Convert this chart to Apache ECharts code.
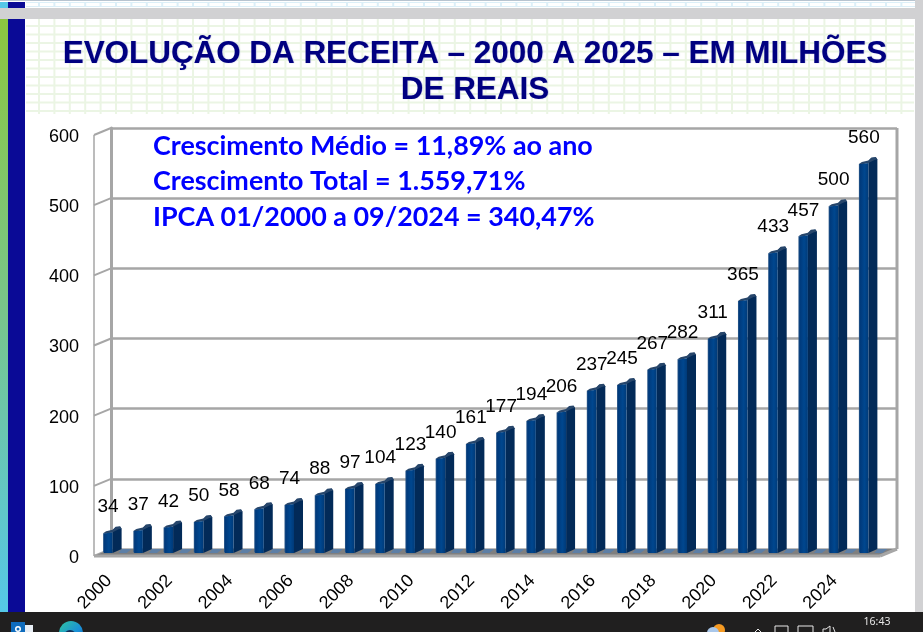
<!DOCTYPE html>
<html><head><meta charset="utf-8">
<style>html,body{margin:0;padding:0;background:#fff}#c{width:923px;height:632px}</style>
<script src="https://cdn.jsdelivr.net/npm/echarts@6/dist/echarts.min.js"></script>
</head><body><div id="c"></div>
<script>
const years = [2000,2001,2002,2003,2004,2005,2006,2007,2008,2009,2010,2011,2012,2013,2014,2015,2016,2017,2018,2019,2020,2021,2022,2023,2024,2025];
const revenue = [34,37,42,50,58,68,74,88,97,104,123,140,161,177,194,206,237,245,267,282,311,365,433,457,500,560];
const yTicks = [0,100,200,300,400,500,600];
const titleText = "EVOLUÇÃO DA RECEITA – 2000 A 2025 – EM MILHÕES\nDE REAIS";
const notes = ["Crescimento Médio = 11,89% ao ano","Crescimento Total = 1.559,71%","IPCA 01/2000 a 09/2024 = 340,47%"];
const clock = "16:43";

const WALL = '#a6a6a6', DX = 17, DY = -7;
const chrome = [];
function rect(x,y,w,h,fill,z){chrome.push({type:'rect',silent:true,z:z===undefined?-10:z,shape:{x,y,width:w,height:h},style:{fill}});}
// patterned slide background
for(let x=38;x<914;x+=15.4){rect(x,19,2,95,'#ebf5e4',-9);rect(x,2,2,5,'#dcefF8',-9);}
for(let y=25;y<114;y+=8.5){rect(26,y,888,2,'#ebf5e4',-9);}
rect(26,2,889,1,'#dcefF8',-9);rect(26,6,889,1,'#dcefF8',-9);
rect(0,0,923,1,'#b8c4d0',-8);
rect(0,8,915,11,'#d1d1d3',-8);
rect(915,0,8,612,'#d1d1d3',-8);
rect(0,2,8,6,'#55c8e8',-8);
rect(8,2,17,6,'#0a0a96',-8);
chrome.push({type:'rect',silent:true,z:-8,shape:{x:0,y:19,width:8,height:593},style:{fill:{type:'linear',x:0,y:0,x2:0,y2:1,colorStops:[{offset:0,color:'#8cc63f'},{offset:0.5,color:'#78c58c'},{offset:1,color:'#55c8e8'}]}}});
rect(8,19,17,593,'#0a0a96',-8);
rect(28,114,886,498,'#ffffff',-8);
// taskbar
rect(0,612,923,20,'#201f1f',5);
rect(11,622,14,10,'#0f6cbd',6);rect(25,625,8,7,'#e8eef5',6);
chrome.push({type:'ring',silent:true,z:6,shape:{cx:18,cy:629,r:3,r0:1.5},style:{fill:'#ffffff'}});
chrome.push({type:'circle',silent:true,z:6,shape:{cx:71,cy:633,r:12},style:{fill:{type:'linear',x:0,y:0,x2:1,y2:1,colorStops:[{offset:0,color:'#2fc4a0'},{offset:0.6,color:'#1a8fd8'},{offset:1,color:'#0c59a4'}]}}});
chrome.push({type:'circle',silent:true,z:7,shape:{cx:70,cy:636,r:6},style:{fill:'#12305c'}});
chrome.push({type:'circle',silent:true,z:6,shape:{cx:719,cy:630,r:6},style:{fill:'#f59a23'}});
chrome.push({type:'circle',silent:true,z:7,shape:{cx:713,cy:633,r:6},style:{fill:'#a9c7ea'}});
const trayLine = {fill:'none',stroke:'#e8e8e8',lineWidth:1};
chrome.push({type:'polyline',silent:true,z:6,shape:{points:[[755,632],[758,629],[761,632]]},style:trayLine});
chrome.push({type:'rect',silent:true,z:6,shape:{x:775,y:626,width:13,height:8},style:trayLine});
chrome.push({type:'rect',silent:true,z:6,shape:{x:798,y:626,width:15,height:8},style:trayLine});
chrome.push({type:'polyline',silent:true,z:6,shape:{points:[[823,632],[823,629],[826,629],[830,626],[830,632]]},style:trayLine});
chrome.push({type:'polyline',silent:true,z:6,shape:{points:[[833,627],[835,632]]},style:trayLine});
chrome.push({type:'text',silent:true,z:6,style:{text:clock,x:877,y:622,align:'center',verticalAlign:'middle',fontSize:10.5,fontFamily:'"Noto Sans"',fill:'#e6e6e6'}});
// annotation
notes.forEach((t,i)=>chrome.push({type:'text',silent:true,z:10,style:{text:t,x:153,y:146+i*35.5,align:'left',verticalAlign:'middle',fontSize:26.9,fontWeight:'bold',fontFamily:'Lato',fill:'#0000ff'}}));

function renderWalls(params, api){
  const r = params.coordSys, y = api.coord([0, api.value(1)])[1];
  return {type:'line',shape:{x1:r.x,y1:y,x2:r.x+DX,y2:y+DY},style:{stroke:WALL,lineWidth:2}};
}
function renderFrame(params){
  const r = params.coordSys, b = r.y+r.height, R = r.x+r.width;
  return {type:'group',children:[
    {type:'polygon',shape:{points:[[r.x,b],[r.x+DX,b+DY],[R+DX,b+DY],[R,b]]},style:{fill:'#7f7f7f'}},
    {type:'line',shape:{x1:r.x,y1:b,x2:R,y2:b},style:{stroke:WALL,lineWidth:3}},
    {type:'line',shape:{x1:R,y1:b,x2:R+DX,y2:b+DY},style:{stroke:WALL,lineWidth:3}},
    {type:'line',shape:{x1:R+DX,y1:r.y+DY,x2:R+DX,y2:b+DY},style:{stroke:WALL,lineWidth:3}},
    {type:'line',shape:{x1:r.x,y1:r.y,x2:r.x,y2:b},style:{stroke:WALL,lineWidth:1.5}}
  ]};
}
function renderBar(params, api){
  const i = api.value(0), v = api.value(1);
  const c = api.coord([i,v]), c0 = api.coord([i,0]);
  const top = c[1], bot = c0[1]-3;
  const x1 = c[0]-6, x2 = c[0]+3.5, x3 = c[0]+12.5;
  return {type:'group',children:[
    {type:'polygon',shape:{points:[[x3,bot-4],[x3+10,bot-4],[x3+5,bot],[x3-3,bot]]},style:{fill:'#5d7fa6'}},
    {type:'polygon',shape:{points:[[x2,top-2],[x3-6,top-5],[x3-1.5,top-5.5],[x3,top-3.5],[x3,bot-4],[x2,bot]]},style:{fill:'#022a58'}},
    {type:'polygon',shape:{points:[[x1,top+1],[x1+3,top-1],[x2,top-2.5],[x3-6,top-5.5],[x3-1.5,top-6],[x3,top-3.5],[x3-3,top-3],[x2,top],[x1+3,top+1.5]]},style:{fill:'#27466b'}},
    {type:'polygon',shape:{points:[[x1,top+1],[x1+3,top+1],[x2,top],[x2,bot],[x1+1,bot],[x1,bot-1]]},
      style:{fill:{type:'linear',x:0,y:0,x2:1,y2:0,colorStops:[{offset:0,color:'#2f5a8a'},{offset:0.15,color:'#003a7c'},{offset:0.6,color:'#00478f'},{offset:1,color:'#003a78'}]}}},
    {type:'text',style:{text:String(v),x:c[0]-1,y:top-25,align:'center',verticalAlign:'middle',fontSize:19,fontFamily:'"Liberation Sans"',fill:'#000'}}
  ]};
}

const chart = echarts.init(document.getElementById('c'),null,{renderer:'canvas'});
chart.setOption({
  animation:false,
  backgroundColor:'#ffffff',
  title:{text:titleText,left:470,top:31,textAlign:'center',
    textStyle:{color:'#000080',fontFamily:'"Liberation Sans"',fontWeight:'bold',fontSize:31.4,lineHeight:36,
      textShadowColor:'#a8a8d8',textShadowBlur:1,textShadowOffsetX:0.5,textShadowOffsetY:0.5}},
  graphic:{elements:chrome},
  grid:[
    {left:94+DX,top:135+DY,width:786,height:421},
    {left:94,top:135,width:786,height:421}
  ],
  xAxis:[
    {type:'category',gridIndex:0,data:years,show:false},
    {type:'category',gridIndex:1,data:years,axisLine:{show:false},axisTick:{show:false},
      axisLabel:{interval:1,rotate:45,margin:22,fontSize:18,color:'#000',fontFamily:'"Liberation Sans"'}}
  ],
  yAxis:[
    {type:'value',gridIndex:0,min:0,max:600,interval:100,axisLabel:{show:false},axisTick:{show:false},
      axisLine:{show:true,lineStyle:{color:WALL,width:3}},splitLine:{show:true,lineStyle:{color:WALL,width:2.5}}},
    {type:'value',gridIndex:1,min:0,max:600,interval:100,axisLine:{show:false},axisTick:{show:false},splitLine:{show:false},
      axisLabel:{margin:15,formatter:'{a|{value}}',rich:{a:{fontSize:18,color:'#000',fontFamily:'"Liberation Sans"',padding:[4,0,0,0]}}}}
  ],
  series:[
    {type:'custom',name:'walls',xAxisIndex:1,yAxisIndex:1,silent:true,z:1,renderItem:renderWalls,data:yTicks.map(t=>[0,t]),encode:{x:0,y:1}},
    {type:'custom',name:'frame',xAxisIndex:1,yAxisIndex:1,silent:true,z:2,renderItem:renderFrame,data:[[0,0]],encode:{x:0,y:1}},
    {type:'custom',name:'Receita',xAxisIndex:1,yAxisIndex:1,z:3,renderItem:renderBar,data:revenue.map((v,i)=>[i,v]),encode:{x:0,y:1},clip:false}
  ]
});
</script></body></html>
